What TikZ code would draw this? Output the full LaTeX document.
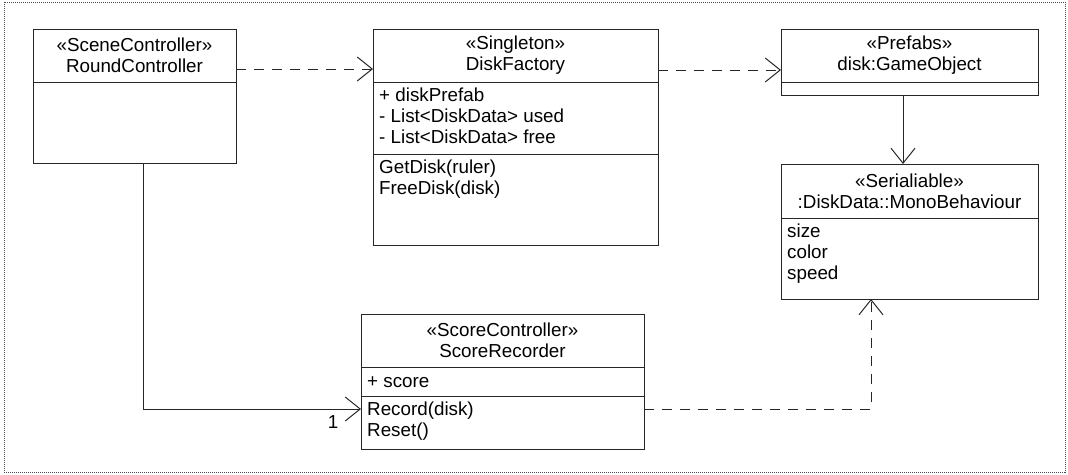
\documentclass[tikz,border=0pt]{standalone}
\usepackage{fontspec}
\setmainfont{Liberation Sans}
\usepackage{tikz}
\usetikzlibrary{arrows.meta}

\newcommand{\umlfont}{\fontsize{18.8}{21}\selectfont}
\tikzset{
  part/.style={shape=rectangle, draw=black!85, line width=1pt, inner sep=0pt, outer sep=0pt, anchor=north west},
  head/.style={part, align=center, font=\umlfont},
  members/.style={inner sep=0pt, anchor=north west, align=left, font=\umlfont, execute at begin node=\strut},
  dep/.style={draw=black!85, line width=1pt, dash pattern=on 10pt off 8pt, -{Straight Barb[length=15pt,width=24pt]}},
  assoc/.style={draw=black!85, line width=1pt, -{Straight Barb[length=15pt,width=24pt]}}
}

\begin{document}
\begin{tikzpicture}[x=1pt, y=-1pt]
\useasboundingbox (0,0) rectangle (1068,474);
\draw[line width=0.8pt, dash pattern=on 1pt off 1pt, black!70] (4,2) rectangle (1065,472);

% RoundController
\node[head, minimum width=203pt, minimum height=53pt] (RCh) at (33,29) {«SceneController»\\RoundController};
\node[part, minimum width=203pt, minimum height=81pt] (RCb) at (RCh.south west) {};

% DiskFactory
\node[head, minimum width=285pt, minimum height=53pt] (DFh) at (373,29) {«Singleton»\\DiskFactory};
\node[part, minimum width=285pt, minimum height=72pt] (DFa) at (DFh.south west) {};
\node[part, minimum width=285pt, minimum height=91pt] (DFm) at (DFa.south west) {};
\node[members] (DFat) at ([xshift=6pt,yshift=-6pt]DFa.north west) {+ diskPrefab\\- List<DiskData> used\\- List<DiskData> free};
\node[members] (DFmt) at ([xshift=6pt,yshift=-6pt]DFm.north west) {GetDisk(ruler)\\FreeDisk(disk)};

% disk prefab
\node[head, minimum width=257pt, minimum height=53pt] (PFh) at (781,29) {«Prefabs»\\disk:GameObject};
\node[part, minimum width=257pt, minimum height=13pt] (PFb) at (PFh.south west) {};

% DiskData
\node[head, minimum width=257pt, minimum height=54pt] (DDh) at (781,164) {«Serialiable»\\:DiskData::MonoBehaviour};
\node[part, minimum width=257pt, minimum height=81pt] (DDa) at (DDh.south west) {};
\node[members] (DDat) at ([xshift=6pt,yshift=-6pt]DDa.north west) {size\\color\\speed};

% ScoreRecorder
\node[head, minimum width=283pt, minimum height=53pt] (SRh) at (361,314) {«ScoreController»\\ScoreRecorder};
\node[part, minimum width=283pt, minimum height=29pt] (SRa) at (SRh.south west) {};
\node[part, minimum width=283pt, minimum height=53pt] (SRm) at (SRa.south west) {};
\node[members] (SRat) at ([xshift=6pt,yshift=-6pt]SRa.north west) {+ score};
\node[members] (SRmt) at ([xshift=6pt,yshift=-6pt]SRm.north west) {Record(disk)\\Reset()};

\draw[dep] ([yshift=-13.5pt]RCh.east) -- ([yshift=-13.5pt]DFh.west);
\draw[dep] ([yshift=-14.5pt]DFh.east) -- ([yshift=-14.5pt]PFh.west);
\draw[assoc] ([xshift=-6.5pt]PFb.south) -- ([xshift=-6.5pt]DDh.north);
\draw[assoc] ([xshift=8.5pt]RCb.south) |- ([yshift=13.5pt]SRm.west);
\node[font=\umlfont, inner sep=0pt] (one) at ([xshift=-28pt]SRm.west) {1};
\draw[dep] ([yshift=13.5pt]SRm.east) -| ([xshift=-38.5pt]DDa.south);
\end{tikzpicture}
\end{document}
